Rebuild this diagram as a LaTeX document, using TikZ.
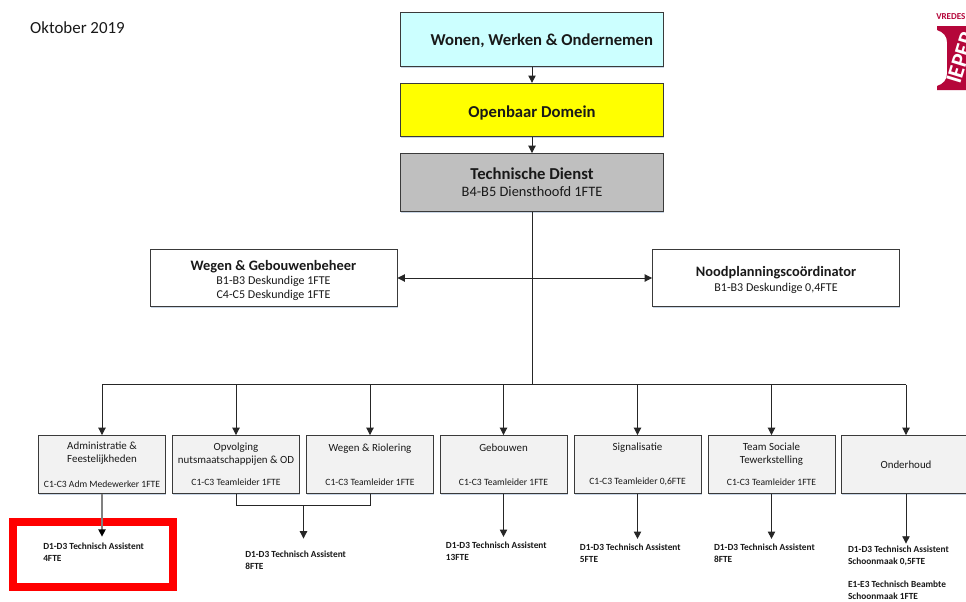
\documentclass[tikz,border=0pt]{standalone}
\usepackage{fontspec}
\setmainfont{Carlito}
\usetikzlibrary{arrows.meta,calc,shadows}
\definecolor{rand}{HTML}{3A3A3A}
\definecolor{logorood}{HTML}{B5063A}
\definecolor{schaduw}{HTML}{C9D6E6}
\definecolor{lichtblauw}{HTML}{CCFFFF}
\definecolor{geel}{HTML}{FFFF00}
\definecolor{grijs}{HTML}{BFBFBF}
\definecolor{rood}{HTML}{FF0000}
\newcommand{\graad}[1]{{\fontsize{7.2}{8}\selectfont #1}}
\begin{document}
\begin{tikzpicture}[x=0.75pt,y=-0.75pt,>={Triangle[width=5.5pt,length=5.5pt]},
    every node/.style={inner sep=0pt,align=center,text=black!90},
    kader/.style={draw=rand,line width=0.7pt,minimum width=#1*0.75pt,
      drop shadow={shadow xshift=0.4pt,shadow yshift=-1.2pt,fill=schaduw,opacity=1}},
    top/.style={kader=263,minimum height=40pt,font=\fontsize{12.5}{15}\selectfont\bfseries},
    staf/.style={kader=247,minimum height=43pt,fill=white,font=\fontsize{9}{10.6}\selectfont},
    ploeg/.style={kader=127,minimum height=43.5pt,fill=black!5,font=\fontsize{8.2}{9.6}\selectfont},
    uitvoer/.style={align=left,anchor=west,font=\fontsize{7}{8.8}\selectfont\bfseries},
    lijn/.style={draw=black!85,line width=0.7pt}]
  \clip(0,0)rectangle(966,601);
  \fill[white](0,0)rectangle(966,601);
  \node(datum)at(77.5,28){\fontsize{12.7}{14}\selectfont Oktober 2019};
  % logo rechtsboven
  \fill[logorood](937,26)--(970,26)--(970,90)--(937,90)--(937,86)
    .. controls (943,84) and (947,80) .. (947,74)--(947,42)
    .. controls (947,36) and (943,32) .. (937,30)--cycle;
  \node[anchor=west,rotate=73,text=white]at(953,83)
    {\fontsize{17}{17}\selectfont\bfseries IEPER};
  \node[anchor=west,text=logorood]at(936,16.5)
    {\fontsize{6.8}{8}\selectfont\bfseries VREDES};
  % bovenste drie
  \node[top,fill=lichtblauw](wonen)at(532,39.5){\hspace*{14.75pt}\rule{0pt}{10.5pt}Wonen, Werken \& Ondernemen};
  \node[top,fill=geel](domein)at(532,110){\rule{0pt}{13.5pt}Openbaar Domein};
  \node[top,fill=grijs,minimum height=43.5pt](dienst)at(532,182.5)
    {Technische Dienst\\[-2pt]{\fontsize{10.8}{12}\selectfont\mdseries B4-B5 Diensthoofd 1FTE}};
  \draw[lijn,->](wonen)--(domein);
  \draw[lijn,->](domein)--(dienst);
  % stafdiensten
  \node[staf](gebouwenbeheer)at(273.5,278)
    {\rule{0pt}{10.8pt}{\fontsize{10.8}{12}\selectfont\bfseries Wegen \& Gebouwenbeheer}\\B1-B3 Deskundige 1FTE\\C4-C5 Deskundige 1FTE};
  \node[staf](nood)at(776,278)
    {\rule{0pt}{10.8pt}{\fontsize{10.8}{12}\selectfont\bfseries Noodplanningscoördinator}\\[0.5pt]B1-B3 Deskundige 0,4FTE};
  \draw[lijn,<->](gebouwenbeheer)--(nood);
  % ploegen
  \coordinate(bus)at(532,384.5);
  \node[ploeg](admin)at(102,464.5){Administratie \&\\Feestelijkheden\\[9pt]\graad{C1-C3 Adm Medewerker 1FTE}};
  \node[ploeg](opvolging)at(236,464.5){Opvolging\\nutsmaatschappijen \& OD\\[7pt]\graad{C1-C3 Teamleider 1FTE}};
  \node[ploeg](riolering)at(370,464.5){Wegen \& Riolering\\[15.5pt]\graad{C1-C3 Teamleider 1FTE}};
  \node[ploeg](gebouwen)at(503.5,464.5){Gebouwen\\[15.5pt]\graad{C1-C3 Teamleider 1FTE}};
  \node[ploeg](signalisatie)at(637.5,464.5){Signalisatie\\[15.5pt]\graad{C1-C3 Teamleider 0,6FTE}};
  \node[ploeg](sociaal)at(771.5,464.5){Team Sociale\\Tewerkstelling\\[7pt]\graad{C1-C3 Teamleider 1FTE}};
  \node[ploeg,kader=130](onderhoud)at(906,464.5){Onderhoud};
  \draw[lijn](dienst)--(bus);
  \draw[lijn](bus-|admin)--(bus-|onderhoud);
  \foreach \ploegnaam in {admin,opvolging,riolering,gebouwen,signalisatie,sociaal,onderhoud}
    \draw[lijn,->](bus-|\ploegnaam)--(\ploegnaam.north);
  % uitvoerend personeel
  \node[draw=rood,line width=6pt,minimum width=120pt,minimum height=49pt](markering)at(93,554.5){};
  \node[uitvoer](adminteam)at(43,552){D1-D3 Technisch Assistent\\4FTE};
  \node[uitvoer](riolteam)at(245,560){D1-D3 Technisch Assistent\\8FTE};
  \node[uitvoer](gebteam)at(445.7,551){D1-D3 Technisch Assistent\\13FTE};
  \node[uitvoer](signteam)at(579.7,553){D1-D3 Technisch Assistent\\5FTE};
  \node[uitvoer](socteam)at(713.8,553){D1-D3 Technisch Assistent\\8FTE};
  \node[uitvoer](onderhteam)at(847.8,572.5){D1-D3 Technisch Assistent\\Schoonmaak 0,5FTE\\[8.6pt]E1-E3 Technisch Beambte\\Schoonmaak 1FTE};
  \coordinate(tak)at(303.5,505.5);
  \draw[lijn](opvolging.south)|-(tak)-|(riolering.south);
  \draw[draw=gray,line width=1.1pt,-{Triangle[width=5.5pt,length=5.5pt,black]},shorten >=4.5pt](admin.south)--(admin.south|-adminteam.north);
  \draw[lijn,->,shorten >=9pt](tak)--(tak|-riolteam.north);
  \draw[lijn,->,shorten >=3.5pt](gebouwen.south)--(gebouwen.south|-gebteam.north);
  \draw[lijn,->,shorten >=3.5pt](signalisatie.south)--(signalisatie.south|-signteam.north);
  \draw[lijn,->,shorten >=3.5pt](sociaal.south)--(sociaal.south|-socteam.north);
  \draw[lijn,->,shorten >=1.5pt](onderhoud.south)--(onderhoud.south|-onderhteam.north);
\end{tikzpicture}
\end{document}
